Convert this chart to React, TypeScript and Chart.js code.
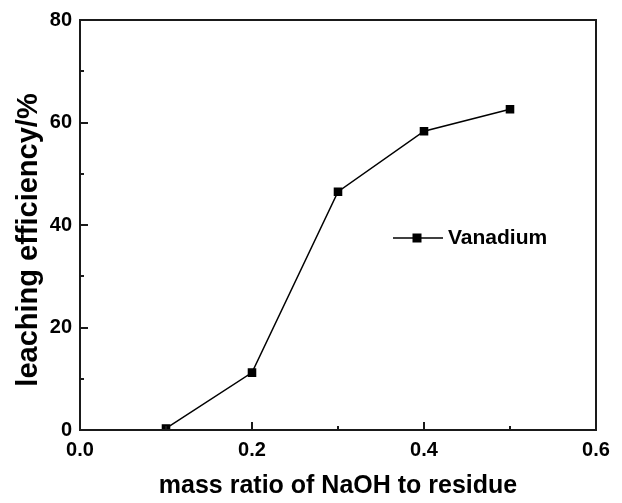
import React, { useEffect, useRef } from "react";
import { Chart, registerables } from "chart.js";

Chart.register(...registerables);

const massRatio = [0.1, 0.2, 0.3, 0.4, 0.5];
const vanadium = [0.3, 11.2, 46.5, 58.3, 62.6];
const seriesName = "Vanadium";
const xTitle = "mass ratio of NaOH to residue";
const yTitle = "leaching efficiency/%";
const xMajor = [0, 0.2, 0.4, 0.6];
const yMajor = [0, 20, 40, 60, 80];

const FONT = "'Liberation Sans', Arial, sans-serif";

const framePlugin = {
  id: "frameTicks",
  afterDraw(chart: any) {
    const { ctx, chartArea: a, scales } = chart;
    const xs = scales.x;
    const ys = scales.y;
    ctx.save();
    ctx.strokeStyle = "#1a1a1a";
    ctx.lineWidth = 2;
    ctx.strokeRect(a.left, a.top, a.right - a.left, a.bottom - a.top);
    ctx.lineWidth = 2;
    for (let v = 0; v <= 0.6001; v += 0.1) {
      const val = Math.round(v * 10) / 10;
      const px = Math.round(xs.getPixelForValue(val));
      const major = xMajor.some((m) => Math.abs(m - val) < 1e-6);
      const len = major ? 8 : 4;
      ctx.beginPath();
      ctx.moveTo(px, a.bottom);
      ctx.lineTo(px, a.bottom - len);
      ctx.stroke();
    }
    for (let v = 0; v <= 80; v += 10) {
      const py = Math.round(ys.getPixelForValue(v));
      const major = yMajor.includes(v);
      const len = major ? 8 : 4;
      ctx.beginPath();
      ctx.moveTo(a.left, py);
      ctx.lineTo(a.left + len, py);
      ctx.stroke();
    }
    // y axis title
    ctx.save();
    ctx.translate(29, Math.round(ys.getPixelForValue(37)));
    ctx.rotate(-Math.PI / 2);
    ctx.fillStyle = "#000";
    ctx.font = `bold 29px ${FONT}`;
    ctx.textAlign = "center";
    ctx.textBaseline = "middle";
    ctx.fillText(yTitle, 0, 0);
    ctx.restore();
    // legend
    const lx = 393;
    const ly = Math.round(ys.getPixelForValue(37.5));
    ctx.lineWidth = 1.5;
    ctx.strokeStyle = "#000";
    ctx.beginPath();
    ctx.moveTo(lx, ly);
    ctx.lineTo(lx + 50, ly);
    ctx.stroke();
    ctx.fillStyle = "#000";
    ctx.fillRect(lx + 24 - 4.5, ly - 4.5, 9, 9);
    ctx.font = `bold 21px ${FONT}`;
    ctx.textBaseline = "middle";
    ctx.textAlign = "left";
    ctx.fillText(seriesName, lx + 55, ly);
    ctx.restore();
  },
};

export default function App() {
  const ref = useRef<HTMLCanvasElement>(null);
  useEffect(() => {
    if (!ref.current) return;
    const chart = new Chart(ref.current, {
      type: "line",
      data: {
        datasets: [
          {
            label: seriesName,
            data: massRatio.map((x, i) => ({ x, y: vanadium[i] })),
            borderColor: "#000",
            backgroundColor: "#000",
            borderWidth: 1.5,
            pointStyle: "rect",
            pointRadius: 5,
            pointHoverRadius: 5,
            tension: 0,
          },
        ],
      },
      options: {
        animation: false,
        responsive: false,
        layout: { padding: { top: 20, right: 26, left: 0, bottom: 0 } },
        plugins: { legend: { display: false }, tooltip: { enabled: false } },
        scales: {
          x: {
            type: "linear",
            min: 0,
            max: 0.6,
            grid: { display: false },
            border: { display: false },
            afterFit: (s: any) => {
              s.height = 73;
            },
            ticks: {
              stepSize: 0.2,
              color: "#000",
              padding: 0,
              font: { family: FONT, size: 20, weight: "bold" },
              callback: (v: any) => Number(v).toFixed(1),
            },
            title: {
              display: true,
              text: xTitle,
              color: "#000",
              font: { family: FONT, size: 25, weight: "bold" },
              padding: { top: 10, bottom: 2 },
            },
          },
          y: {
            min: 0,
            max: 80,
            grid: { display: false },
            border: { display: false },
            afterFit: (s: any) => {
              s.width = 80;
            },
            ticks: {
              stepSize: 20,
              color: "#000",
              padding: 0,
              font: { family: FONT, size: 20, weight: "bold" },
            },
            title: { display: false },
          },
        },
      },
      plugins: [framePlugin],
    });
    return () => chart.destroy();
  }, []);
  return (
    <div style={{ position: "fixed", left: 0, top: 0, width: 622, height: 503, background: "#fff" }}>
      <canvas ref={ref} width={622} height={503} style={{ width: 622, height: 503 }} />
    </div>
  );
}
